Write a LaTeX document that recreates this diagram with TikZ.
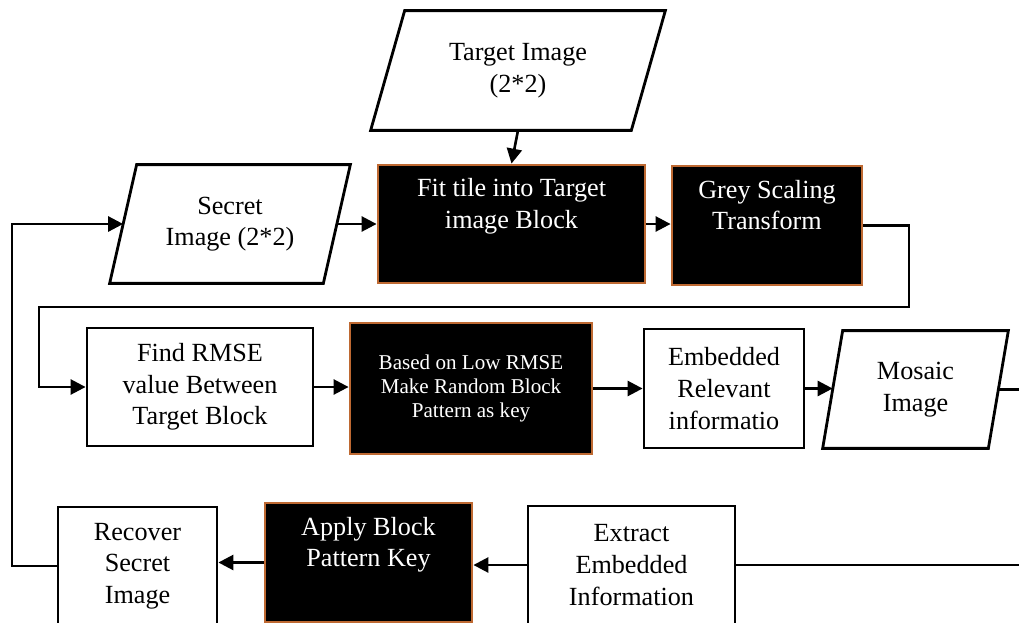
\documentclass[tikz,border=0pt]{standalone}
\usepackage{fontspec}
\setmainfont{Liberation Serif}
\usetikzlibrary{arrows.meta}
\definecolor{boxbrown}{RGB}{190,105,50}

\begin{document}
\begin{tikzpicture}
         [x=0.2mm, y=-0.2mm,
          every node/.style={align=center, inner sep=0pt, font=\fontsize{14.9}{18}\selectfont},
          plain box/.style={draw, line width=1.6pt, fill=white},
          dark box/.style={draw=boxbrown, line width=1.6pt, fill=black, text=white},
          io box/.style={},
          flow/.style={-{Triangle[length=8.5pt,width=8.5pt]}, line width=1.5pt},
          link/.style={line width=1.6pt}]
         \useasboundingbox (0,0) rectangle (1019,623);

         \node[io box, minimum width=52mm, minimum height=23.8mm] (target) at (518,70.5) {Target Image\\(2*2)};
         \node[io box, minimum width=42.6mm, minimum height=23.6mm] (secret) at (230,224) {Secret\\Image (2*2)};
         \node[dark box, minimum width=53.4mm, minimum height=23.6mm] (fit) at (511.5,224) {Fit tile into Target\\image Block\\\strut};
         \node[dark box, minimum width=38mm, minimum height=23.8mm] (grey) at (767,225.5) {Grey Scaling\\Transform\\\strut};

         \node[plain box, minimum width=45.2mm, minimum height=23.6mm] (rmse) at (200,387) {Find RMSE\\value Between\\Target Block};
         \node[dark box, minimum width=48.4mm, minimum height=26.2mm, font=\fontsize{12}{13.8}\selectfont] (based) at (471,388.5) {Based on Low RMSE\\Make Random Block\\Pattern as key};
         \node[plain box, minimum width=32mm, minimum height=23.8mm] (embed) at (724,388.5) {Embedded\\Relevant\\informatio};
         \node[io box, minimum width=33mm, minimum height=23.4mm] (mosaic) at (915.5,389.5) {Mosaic\\Image};

         \node[plain box, minimum width=31.8mm, minimum height=23.6mm] (recover) at (137.5,566) {Recover\\Secret\\Image};
         \node[dark box, minimum width=41.4mm, minimum height=23.8mm] (apply) at (368.5,562.5) {Apply Block\\Pattern Key\\\strut};
         \node[plain box, minimum width=41.4mm, minimum height=23.6mm] (extract) at (631.5,565) {Extract\\Embedded\\Information};

         % slanted input/output boxes
         \draw[link] ([shift={(17,0)}]target.north west) -- ([shift={(17,0)}]target.north east) -- ([shift={(-17,0)}]target.south east) -- ([shift={(-17,0)}]target.south west) -- cycle;
         \draw[link] ([shift={(13.5,0)}]secret.north west) -- ([shift={(13.5,0)}]secret.north east) -- ([shift={(-13.5,0)}]secret.south east) -- ([shift={(-13.5,0)}]secret.south west) -- cycle;
         \draw[link] ([shift={(10,0)}]mosaic.north west) -- ([shift={(10,0)}]mosaic.north east) -- ([shift={(-10,0)}]mosaic.south east) -- ([shift={(-10,0)}]mosaic.south west) -- cycle;

         \coordinate (left loop) at (12,0);
         \coordinate (turn right) at (909,307);
         \coordinate (turn left) at (39,307);
         \coordinate (right loop) at (1021,0);

         \draw[flow] (target.south) -- (fit.north);
         \draw[flow] (secret.east) -- (secret.east -| fit.west);
         \draw[flow] (fit.east) -- (fit.east -| grey.west);
         \draw[flow] (grey.east) -| (turn right) -- (turn left) |- (rmse.west);

         \draw[flow] (rmse.east) -- (rmse.east -| based.west);
         \draw[flow] (based.east) -- (based.east -| embed.west);
         \draw[flow] (embed.east) -- (embed.east -| mosaic.west);
         \draw[link] (mosaic.east) -- (mosaic.east -| right loop) |- (extract.east);

         \draw[flow] (extract.west) -- (extract.west -| apply.east);
         \draw[flow] (apply.west) -- (apply.west -| recover.east);
         \draw[flow] (recover.west) -- (recover.west -| left loop) |- (secret.west);
      \end{tikzpicture}
\end{document}
